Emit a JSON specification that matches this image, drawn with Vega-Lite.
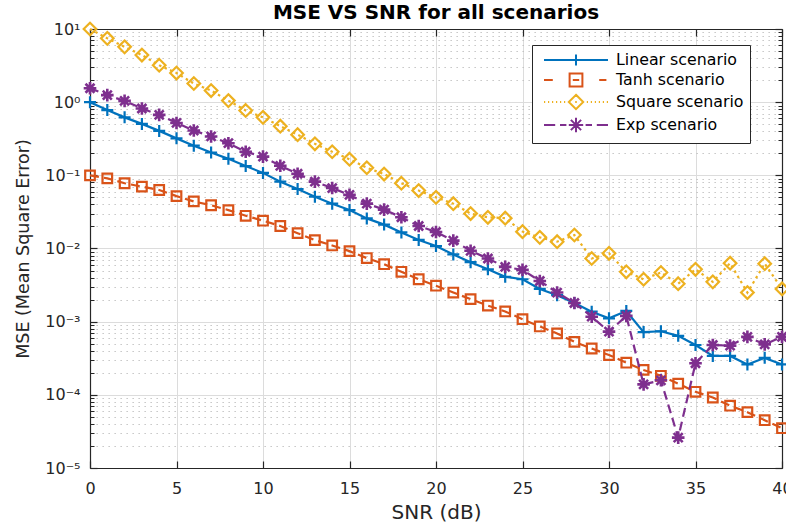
{
  "$schema": "https://vega.github.io/schema/vega-lite/v6.json",
  "width": 692,
  "height": 439,
  "autosize": {"type": "none"},
  "padding": {"left": 90, "top": 29, "right": 4, "bottom": 59},
  "background": "white",
  "title": {"text": "MSE VS SNR for all scenarios", "font": "DejaVu Sans", "fontSize": 20, "fontWeight": "bold", "color": "#000000", "offset": -5, "anchor": "middle"},
  "datasets": {
    "d": [
      {"snr":0,"mse":1.0,"s":"Linear scenario"},{"snr":1,"mse":0.78,"s":"Linear scenario"},{"snr":2,"mse":0.62,"s":"Linear scenario"},{"snr":3,"mse":0.505,"s":"Linear scenario"},{"snr":4,"mse":0.405,"s":"Linear scenario"},{"snr":5,"mse":0.32,"s":"Linear scenario"},{"snr":6,"mse":0.254,"s":"Linear scenario"},{"snr":7,"mse":0.205,"s":"Linear scenario"},{"snr":8,"mse":0.168,"s":"Linear scenario"},{"snr":9,"mse":0.134,"s":"Linear scenario"},{"snr":10,"mse":0.108,"s":"Linear scenario"},{"snr":11,"mse":0.082,"s":"Linear scenario"},{"snr":12,"mse":0.065,"s":"Linear scenario"},{"snr":13,"mse":0.051,"s":"Linear scenario"},{"snr":14,"mse":0.041,"s":"Linear scenario"},{"snr":15,"mse":0.0335,"s":"Linear scenario"},{"snr":16,"mse":0.0258,"s":"Linear scenario"},{"snr":17,"mse":0.0212,"s":"Linear scenario"},{"snr":18,"mse":0.0166,"s":"Linear scenario"},{"snr":19,"mse":0.0131,"s":"Linear scenario"},{"snr":20,"mse":0.0108,"s":"Linear scenario"},{"snr":21,"mse":0.0083,"s":"Linear scenario"},{"snr":22,"mse":0.0065,"s":"Linear scenario"},{"snr":23,"mse":0.0052,"s":"Linear scenario"},{"snr":24,"mse":0.0041,"s":"Linear scenario"},{"snr":25,"mse":0.0038,"s":"Linear scenario"},{"snr":26,"mse":0.0028,"s":"Linear scenario"},{"snr":27,"mse":0.0023,"s":"Linear scenario"},{"snr":28,"mse":0.0018,"s":"Linear scenario"},{"snr":29,"mse":0.00137,"s":"Linear scenario"},{"snr":30,"mse":0.00111,"s":"Linear scenario"},{"snr":31,"mse":0.0014,"s":"Linear scenario"},{"snr":32,"mse":0.00072,"s":"Linear scenario"},{"snr":33,"mse":0.00074,"s":"Linear scenario"},{"snr":34,"mse":0.00064,"s":"Linear scenario"},{"snr":35,"mse":0.00048,"s":"Linear scenario"},{"snr":36,"mse":0.00034,"s":"Linear scenario"},{"snr":37,"mse":0.00034,"s":"Linear scenario"},{"snr":38,"mse":0.00026,"s":"Linear scenario"},{"snr":39,"mse":0.00032,"s":"Linear scenario"},{"snr":40,"mse":0.00026,"s":"Linear scenario"},
      {"snr":0,"mse":0.1,"s":"Tanh scenario"},{"snr":1,"mse":0.091,"s":"Tanh scenario"},{"snr":2,"mse":0.078,"s":"Tanh scenario"},{"snr":3,"mse":0.07,"s":"Tanh scenario"},{"snr":4,"mse":0.063,"s":"Tanh scenario"},{"snr":5,"mse":0.052,"s":"Tanh scenario"},{"snr":6,"mse":0.044,"s":"Tanh scenario"},{"snr":7,"mse":0.039,"s":"Tanh scenario"},{"snr":8,"mse":0.0335,"s":"Tanh scenario"},{"snr":9,"mse":0.028,"s":"Tanh scenario"},{"snr":10,"mse":0.024,"s":"Tanh scenario"},{"snr":11,"mse":0.0203,"s":"Tanh scenario"},{"snr":12,"mse":0.0162,"s":"Tanh scenario"},{"snr":13,"mse":0.013,"s":"Tanh scenario"},{"snr":14,"mse":0.011,"s":"Tanh scenario"},{"snr":15,"mse":0.0092,"s":"Tanh scenario"},{"snr":16,"mse":0.0074,"s":"Tanh scenario"},{"snr":17,"mse":0.0061,"s":"Tanh scenario"},{"snr":18,"mse":0.0048,"s":"Tanh scenario"},{"snr":19,"mse":0.0038,"s":"Tanh scenario"},{"snr":20,"mse":0.0031,"s":"Tanh scenario"},{"snr":21,"mse":0.0025,"s":"Tanh scenario"},{"snr":22,"mse":0.00203,"s":"Tanh scenario"},{"snr":23,"mse":0.00166,"s":"Tanh scenario"},{"snr":24,"mse":0.00138,"s":"Tanh scenario"},{"snr":25,"mse":0.00108,"s":"Tanh scenario"},{"snr":26,"mse":0.00086,"s":"Tanh scenario"},{"snr":27,"mse":0.00069,"s":"Tanh scenario"},{"snr":28,"mse":0.00053,"s":"Tanh scenario"},{"snr":29,"mse":0.00043,"s":"Tanh scenario"},{"snr":30,"mse":0.00035,"s":"Tanh scenario"},{"snr":31,"mse":0.000275,"s":"Tanh scenario"},{"snr":32,"mse":0.000219,"s":"Tanh scenario"},{"snr":33,"mse":0.000182,"s":"Tanh scenario"},{"snr":34,"mse":0.000142,"s":"Tanh scenario"},{"snr":35,"mse":0.00011,"s":"Tanh scenario"},{"snr":36,"mse":0.000092,"s":"Tanh scenario"},{"snr":37,"mse":0.000071,"s":"Tanh scenario"},{"snr":38,"mse":0.000058,"s":"Tanh scenario"},{"snr":39,"mse":0.000045,"s":"Tanh scenario"},{"snr":40,"mse":0.000035,"s":"Tanh scenario"},
      {"snr":0,"mse":10,"s":"Square scenario"},{"snr":1,"mse":7.45,"s":"Square scenario"},{"snr":2,"mse":5.7,"s":"Square scenario"},{"snr":3,"mse":4.4,"s":"Square scenario"},{"snr":4,"mse":3.2,"s":"Square scenario"},{"snr":5,"mse":2.5,"s":"Square scenario"},{"snr":6,"mse":1.8,"s":"Square scenario"},{"snr":7,"mse":1.44,"s":"Square scenario"},{"snr":8,"mse":1.05,"s":"Square scenario"},{"snr":9,"mse":0.77,"s":"Square scenario"},{"snr":10,"mse":0.62,"s":"Square scenario"},{"snr":11,"mse":0.47,"s":"Square scenario"},{"snr":12,"mse":0.36,"s":"Square scenario"},{"snr":13,"mse":0.27,"s":"Square scenario"},{"snr":14,"mse":0.21,"s":"Square scenario"},{"snr":15,"mse":0.166,"s":"Square scenario"},{"snr":16,"mse":0.127,"s":"Square scenario"},{"snr":17,"mse":0.104,"s":"Square scenario"},{"snr":18,"mse":0.078,"s":"Square scenario"},{"snr":19,"mse":0.062,"s":"Square scenario"},{"snr":20,"mse":0.05,"s":"Square scenario"},{"snr":21,"mse":0.041,"s":"Square scenario"},{"snr":22,"mse":0.03,"s":"Square scenario"},{"snr":23,"mse":0.0267,"s":"Square scenario"},{"snr":24,"mse":0.026,"s":"Square scenario"},{"snr":25,"mse":0.017,"s":"Square scenario"},{"snr":26,"mse":0.0142,"s":"Square scenario"},{"snr":27,"mse":0.0124,"s":"Square scenario"},{"snr":28,"mse":0.0153,"s":"Square scenario"},{"snr":29,"mse":0.0073,"s":"Square scenario"},{"snr":30,"mse":0.0086,"s":"Square scenario"},{"snr":31,"mse":0.0048,"s":"Square scenario"},{"snr":32,"mse":0.0038,"s":"Square scenario"},{"snr":33,"mse":0.0047,"s":"Square scenario"},{"snr":34,"mse":0.0033,"s":"Square scenario"},{"snr":35,"mse":0.0052,"s":"Square scenario"},{"snr":36,"mse":0.0035,"s":"Square scenario"},{"snr":37,"mse":0.0063,"s":"Square scenario"},{"snr":38,"mse":0.0025,"s":"Square scenario"},{"snr":39,"mse":0.0062,"s":"Square scenario"},{"snr":40,"mse":0.0028,"s":"Square scenario"},
      {"snr":0,"mse":1.55,"s":"Exp scenario"},{"snr":1,"mse":1.25,"s":"Exp scenario"},{"snr":2,"mse":1.04,"s":"Exp scenario"},{"snr":3,"mse":0.82,"s":"Exp scenario"},{"snr":4,"mse":0.67,"s":"Exp scenario"},{"snr":5,"mse":0.52,"s":"Exp scenario"},{"snr":6,"mse":0.41,"s":"Exp scenario"},{"snr":7,"mse":0.34,"s":"Exp scenario"},{"snr":8,"mse":0.275,"s":"Exp scenario"},{"snr":9,"mse":0.21,"s":"Exp scenario"},{"snr":10,"mse":0.18,"s":"Exp scenario"},{"snr":11,"mse":0.135,"s":"Exp scenario"},{"snr":12,"mse":0.105,"s":"Exp scenario"},{"snr":13,"mse":0.082,"s":"Exp scenario"},{"snr":14,"mse":0.067,"s":"Exp scenario"},{"snr":15,"mse":0.054,"s":"Exp scenario"},{"snr":16,"mse":0.041,"s":"Exp scenario"},{"snr":17,"mse":0.034,"s":"Exp scenario"},{"snr":18,"mse":0.0267,"s":"Exp scenario"},{"snr":19,"mse":0.0203,"s":"Exp scenario"},{"snr":20,"mse":0.0168,"s":"Exp scenario"},{"snr":21,"mse":0.0128,"s":"Exp scenario"},{"snr":22,"mse":0.0093,"s":"Exp scenario"},{"snr":23,"mse":0.0073,"s":"Exp scenario"},{"snr":24,"mse":0.0056,"s":"Exp scenario"},{"snr":25,"mse":0.0051,"s":"Exp scenario"},{"snr":26,"mse":0.0036,"s":"Exp scenario"},{"snr":27,"mse":0.0025,"s":"Exp scenario"},{"snr":28,"mse":0.0018,"s":"Exp scenario"},{"snr":29,"mse":0.00117,"s":"Exp scenario"},{"snr":30,"mse":0.00073,"s":"Exp scenario"},{"snr":31,"mse":0.0012,"s":"Exp scenario"},{"snr":32,"mse":0.000139,"s":"Exp scenario"},{"snr":33,"mse":0.000158,"s":"Exp scenario"},{"snr":34,"mse":0.000026,"s":"Exp scenario"},{"snr":35,"mse":0.00027,"s":"Exp scenario"},{"snr":36,"mse":0.00048,"s":"Exp scenario"},{"snr":37,"mse":0.00047,"s":"Exp scenario"},{"snr":38,"mse":0.00062,"s":"Exp scenario"},{"snr":39,"mse":0.00049,"s":"Exp scenario"},{"snr":40,"mse":0.00062,"s":"Exp scenario"}
    ]
  },
  "data": {"name": "d"},
  "resolve": {"axis": {"x": "independent", "y": "independent"}},
  "layer": [
    {
      "transform": [{"filter": "datum.s === 'Linear scenario'"}],
      "mark": {"type": "line", "strokeWidth": 2.2},
      "encoding": {
        "x": {"field": "snr", "type": "quantitative", "scale": {"domain": [0, 40], "nice": false, "zero": false},
          "axis": {"orient": "bottom", "values": [0,5,10,15,20,25,30,35,40], "title": "SNR (dB)", "titleFontSize": 20, "titlePadding": 6, "grid": true, "gridColor": "#dcdcdc", "ticks": true, "tickSize": -7, "tickWidth": 1.2, "labelPadding": 19, "domain": true, "domainWidth": 1.2, "labelFlush": false, "labelOverlap": false, "labelAngle": 0}},
        "y": {"field": "mse", "type": "quantitative", "scale": {"type": "log", "domain": [0.00001, 10], "nice": false},
          "axis": {"orient": "left", "values": [0.00001,0.0001,0.001,0.01,0.1,1,10], "title": "MSE (Mean Square Error)", "titleFontSize": 17.5, "titlePadding": 12, "grid": true, "gridColor": "#dcdcdc", "ticks": true, "tickSize": -7, "tickWidth": 1.2, "labelPadding": 17, "domain": true, "domainWidth": 1.2, "labelFlush": false, "labelOverlap": false,
            "labelExpr": "'10' + (datum.value < 0.9 ? '⁻' : '') + ['⁰','¹','²','³','⁴','⁵','⁶','⁷','⁸','⁹'][abs(round(log(datum.value)/LN10))]"}},
        "color": {"field": "s", "type": "nominal",
          "scale": {"domain": ["Linear scenario","Tanh scenario","Square scenario","Exp scenario"], "range": ["#0072BD","#D95319","#EDB120","#7E2F8E"]},
          "legend": {"title": null, "orient": "none", "legendX": 442, "legendY": 16, "padding": 6, "fillColor": "white", "strokeColor": "#262626",
            "labelFont": "DejaVu Sans", "labelFontSize": 15.8, "labelColor": "#000000", "symbolSize": 256, "symbolStrokeWidth": 2, "symbolOffset": 29, "labelOffset": 31, "rowPadding": -1, "symbolOpacity": 1,
            "encoding": {"symbols": {
              "shape": {"value": {"expr": "datum.value === 'Linear scenario' ? 'M-4,0H4M0,-0.7V0.7' : datum.value === 'Tanh scenario' ? 'M-4,0H-2.9M2.9,0H3.8M-0.8,-0.8H0.8V0.8H-0.8ZM-0.4,0H0.4' : datum.value === 'Square scenario' ? 'M-4,0H-3.85M-3.5,0H-3.35M-3,0H-2.85M-2.5,0H-2.35M-2,0H-1.85M-1.5,0H-1.35M1.35,0H1.5M1.85,0H2M2.35,0H2.5M2.85,0H3M3.35,0H3.5M3.85,0H4M0,-0.9L0.9,0L0,0.9L-0.9,0ZM-0.1,0H0.1' : 'M-4,0H-2.6M-2,0H-1.2M1.2,0H2M2.6,0H4M-0.9,0H0.9M0,-0.9V0.9M-0.64,-0.64L0.64,0.64M-0.64,0.64L0.64,-0.64'"}},
              "fill": {"value": "transparent"}
            }}}
        }
      }
    },
    {
      "transform": [{"filter": "datum.s === 'Linear scenario'"}],
      "mark": {"type": "point", "shape": "M-1,0H1M0,-1V1", "size": 144, "filled": false, "strokeWidth": 2.2, "opacity": 1},
      "encoding": {
        "x": {"field": "snr", "type": "quantitative", "scale": {"domain": [0, 40], "nice": false, "zero": false},
          "axis": {"orient": "top", "values": [0,5,10,15,20,25,30,35,40], "title": null, "labels": false, "grid": false, "ticks": true, "tickSize": -7, "tickWidth": 1.2, "domain": true, "domainWidth": 1.2}},
        "y": {"field": "mse", "type": "quantitative", "scale": {"type": "log", "domain": [0.00001, 10], "nice": false},
          "axis": {"orient": "right", "values": [0.00001,0.0001,0.001,0.01,0.1,1,10], "title": null, "labels": false, "grid": false, "ticks": true, "tickSize": -7, "tickWidth": 1.2, "domain": true, "domainWidth": 1.2}},
        "color": {"field": "s", "type": "nominal", "scale": {"domain": ["Linear scenario","Tanh scenario","Square scenario","Exp scenario"], "range": ["#0072BD","#D95319","#EDB120","#7E2F8E"]}}
      }
    },
    {
      "transform": [{"filter": "datum.s === 'Tanh scenario'"}],
      "mark": {"type": "line", "strokeWidth": 2.2, "strokeDash": [9, 5]},
      "encoding": {
        "x": {"field": "snr", "type": "quantitative", "scale": {"domain": [0, 40], "nice": false, "zero": false}, "axis": null},
        "y": {"field": "mse", "type": "quantitative", "scale": {"type": "log", "domain": [0.00001, 10], "nice": false},
          "axis": {"orient": "left", "values": [2e-5,3e-5,4e-5,5e-5,6e-5,7e-5,8e-5,9e-5,2e-4,3e-4,4e-4,5e-4,6e-4,7e-4,8e-4,9e-4,0.002,0.003,0.004,0.005,0.006,0.007,0.008,0.009,0.02,0.03,0.04,0.05,0.06,0.07,0.08,0.09,0.2,0.3,0.4,0.5,0.6,0.7,0.8,0.9,2,3,4,5,6,7,8,9], "title": null, "labels": false, "ticks": true, "tickSize": -4, "tickWidth": 1, "domain": false, "grid": true, "gridColor": "#bdbdbd", "gridDash": [1.3, 4.7]}},
        "color": {"field": "s", "type": "nominal", "scale": {"domain": ["Linear scenario","Tanh scenario","Square scenario","Exp scenario"], "range": ["#0072BD","#D95319","#EDB120","#7E2F8E"]}}
      }
    },
    {
      "transform": [{"filter": "datum.s === 'Tanh scenario'"}],
      "mark": {"type": "point", "shape": "M-0.8,-0.8H0.8V0.8H-0.8Z", "size": 144, "filled": false, "strokeWidth": 2.2, "opacity": 1},
      "encoding": {
        "x": {"field": "snr", "type": "quantitative", "scale": {"domain": [0, 40], "nice": false, "zero": false}, "axis": null},
        "y": {"field": "mse", "type": "quantitative", "scale": {"type": "log", "domain": [0.00001, 10], "nice": false},
          "axis": {"orient": "right", "values": [2e-5,3e-5,4e-5,5e-5,6e-5,7e-5,8e-5,9e-5,2e-4,3e-4,4e-4,5e-4,6e-4,7e-4,8e-4,9e-4,0.002,0.003,0.004,0.005,0.006,0.007,0.008,0.009,0.02,0.03,0.04,0.05,0.06,0.07,0.08,0.09,0.2,0.3,0.4,0.5,0.6,0.7,0.8,0.9,2,3,4,5,6,7,8,9], "title": null, "labels": false, "ticks": true, "tickSize": -4, "tickWidth": 1, "domain": false, "grid": false}},
        "color": {"field": "s", "type": "nominal", "scale": {"domain": ["Linear scenario","Tanh scenario","Square scenario","Exp scenario"], "range": ["#0072BD","#D95319","#EDB120","#7E2F8E"]}}
      }
    },
    {
      "transform": [{"filter": "datum.s === 'Square scenario'"}],
      "mark": {"type": "line", "strokeWidth": 2.2, "strokeDash": [2.5, 3.5]},
      "encoding": {
        "x": {"field": "snr", "type": "quantitative", "scale": {"domain": [0, 40], "nice": false, "zero": false}, "axis": null},
        "y": {"field": "mse", "type": "quantitative", "scale": {"type": "log", "domain": [0.00001, 10], "nice": false}, "axis": null},
        "color": {"field": "s", "type": "nominal", "scale": {"domain": ["Linear scenario","Tanh scenario","Square scenario","Exp scenario"], "range": ["#0072BD","#D95319","#EDB120","#7E2F8E"]}}
      }
    },
    {
      "transform": [{"filter": "datum.s === 'Square scenario'"}],
      "mark": {"type": "point", "shape": "M0,-1.05L1.05,0L0,1.05L-1.05,0Z", "size": 144, "filled": false, "strokeWidth": 2.2, "opacity": 1},
      "encoding": {
        "x": {"field": "snr", "type": "quantitative", "scale": {"domain": [0, 40], "nice": false, "zero": false}, "axis": null},
        "y": {"field": "mse", "type": "quantitative", "scale": {"type": "log", "domain": [0.00001, 10], "nice": false}, "axis": null},
        "color": {"field": "s", "type": "nominal", "scale": {"domain": ["Linear scenario","Tanh scenario","Square scenario","Exp scenario"], "range": ["#0072BD","#D95319","#EDB120","#7E2F8E"]}}
      }
    },
    {
      "transform": [{"filter": "datum.s === 'Exp scenario'"}],
      "mark": {"type": "line", "strokeWidth": 2.2, "strokeDash": [9, 5]},
      "encoding": {
        "x": {"field": "snr", "type": "quantitative", "scale": {"domain": [0, 40], "nice": false, "zero": false}, "axis": null},
        "y": {"field": "mse", "type": "quantitative", "scale": {"type": "log", "domain": [0.00001, 10], "nice": false}, "axis": null},
        "color": {"field": "s", "type": "nominal", "scale": {"domain": ["Linear scenario","Tanh scenario","Square scenario","Exp scenario"], "range": ["#0072BD","#D95319","#EDB120","#7E2F8E"]}}
      }
    },
    {
      "transform": [{"filter": "datum.s === 'Exp scenario'"}],
      "mark": {"type": "point", "shape": "M-1.05,0H1.05M0,-1.05V1.05M-0.75,-0.75L0.75,0.75M-0.75,0.75L0.75,-0.75", "size": 144, "filled": false, "strokeWidth": 2.6, "opacity": 1},
      "encoding": {
        "x": {"field": "snr", "type": "quantitative", "scale": {"domain": [0, 40], "nice": false, "zero": false}, "axis": null},
        "y": {"field": "mse", "type": "quantitative", "scale": {"type": "log", "domain": [0.00001, 10], "nice": false}, "axis": null},
        "color": {"field": "s", "type": "nominal", "scale": {"domain": ["Linear scenario","Tanh scenario","Square scenario","Exp scenario"], "range": ["#0072BD","#D95319","#EDB120","#7E2F8E"]}}
      }
    }
  ],
  "config": {
    "view": {"stroke": null},
    "font": "DejaVu Sans",
    "axis": {"labelFont": "DejaVu Sans", "labelFontSize": 16, "labelColor": "#262626", "titleFont": "DejaVu Sans", "titleColor": "#262626", "titleFontWeight": "normal", "domainColor": "#262626", "tickColor": "#262626", "gridOpacity": 1}
  }
}
